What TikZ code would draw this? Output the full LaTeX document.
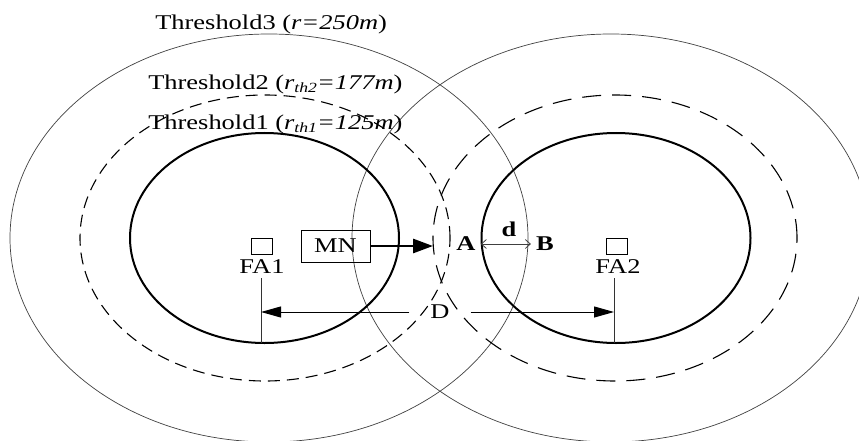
\documentclass[tikz,border=0pt]{standalone}
\usepackage{fontspec}
\setmainfont{Liberation Serif}
\usetikzlibrary{positioning,arrows.meta}

\newcommand\subth[1]{\raisebox{-0.25ex}{\fontsize{14}{15}\selectfont #1}}

\begin{document}
\begin{tikzpicture}[x=1pt,y=1pt,
  txt/.style={font=\fontsize{21}{25}\selectfont,xscale=1.26,inner sep=0pt},
  lbl/.style={txt,font=\fontsize{21}{25}\selectfont\bfseries},
  outer/.style={line width=0.7pt,black!75},
  mid left/.style={line width=1.1pt,dash pattern=on 12pt off 7pt},
  mid right/.style={line width=1.1pt,dash pattern=on 19pt off 11pt},
  inner/.style={line width=2pt},
  fabox/.style={draw,line width=0.8pt,minimum width=16.7pt,minimum height=16pt,inner sep=0pt,xscale=1.26},
  mnbox/.style={txt,draw,line width=0.8pt,minimum width=54.8pt,minimum height=32pt},
  dimline/.style={line width=0.8pt,black!80},
  dimarrow/.style={line width=1pt,-{Triangle[length=20pt,width=11pt]}},
  mnarrow/.style={line width=2.8pt,-{Triangle[length=20pt,width=14pt]}},
  darrow/.style={line width=0.8pt,black!75,{Straight Barb[length=5pt,width=9pt]}-{Straight Barb[length=5pt,width=9pt]}}]
\useasboundingbox (0,0) rectangle (859,440);
\begin{scope}
\clip (0,0) rectangle (859,440);
\draw[outer] (269,202) ellipse [x radius=259, y radius=204];
\draw[outer] (611,202) ellipse [x radius=259, y radius=204];
\draw[mid left] (265,202) ellipse [x radius=185, y radius=143];
\draw[mid right] (615,202) ellipse [x radius=182, y radius=143];
\draw[inner] (264.5,202) ellipse [x radius=134.5, y radius=105];
\draw[inner] (616,202) ellipse [x radius=134.5, y radius=105];
\end{scope}

\node[txt,anchor=base west] (th3) at (155,410) {Threshold3 (\textit{r=250m})};
\node[txt,anchor=base west] (th2) at (148,350) {Threshold2 (\textit{r\subth{th2}=177m})};
\node[txt,anchor=base west] (th1) at (148,310) {Threshold1 (\textit{r\subth{th1}=125m})};

\node[fabox] (fa1) at (261.5,194) {};
\node[txt] (fa1 lbl) at (262,173) {FA1};
\node[fabox] (fa2) at (616.5,194) {};
\node[txt] (fa2 lbl) at (618,173) {FA2};
\coordinate (fa1 top) at (261,162);
\coordinate (fa1 bot) at (261,97);
\coordinate (fa2 top) at (614,162);
\coordinate (fa2 bot) at (614,97);
\draw[dimline] (fa1 top) -- (fa1 bot);
\draw[dimline] (fa2 top) -- (fa2 bot);

\node[txt,inner xsep=16.5pt] (D) at (440,128) {D};
\draw[dimarrow] (D.west) -- (D.west -| fa1 top);
\draw[dimarrow] (D.east) -- (D.east -| fa2 top);

\node[mnbox] (mn) at (335.5,194) {MN};
\coordinate (mn tip) at (433,194);
\draw[mnarrow] (mn.east) -- (mn tip);

\node[lbl,inner xsep=4pt] (A) at (466,196) {A};
\node[lbl,inner xsep=4pt] (B) at (545,196) {B};
\draw[darrow] (A.east) -- (B.west);
\node[lbl] (d) at (509,211) {d};
\end{tikzpicture}
\end{document}
